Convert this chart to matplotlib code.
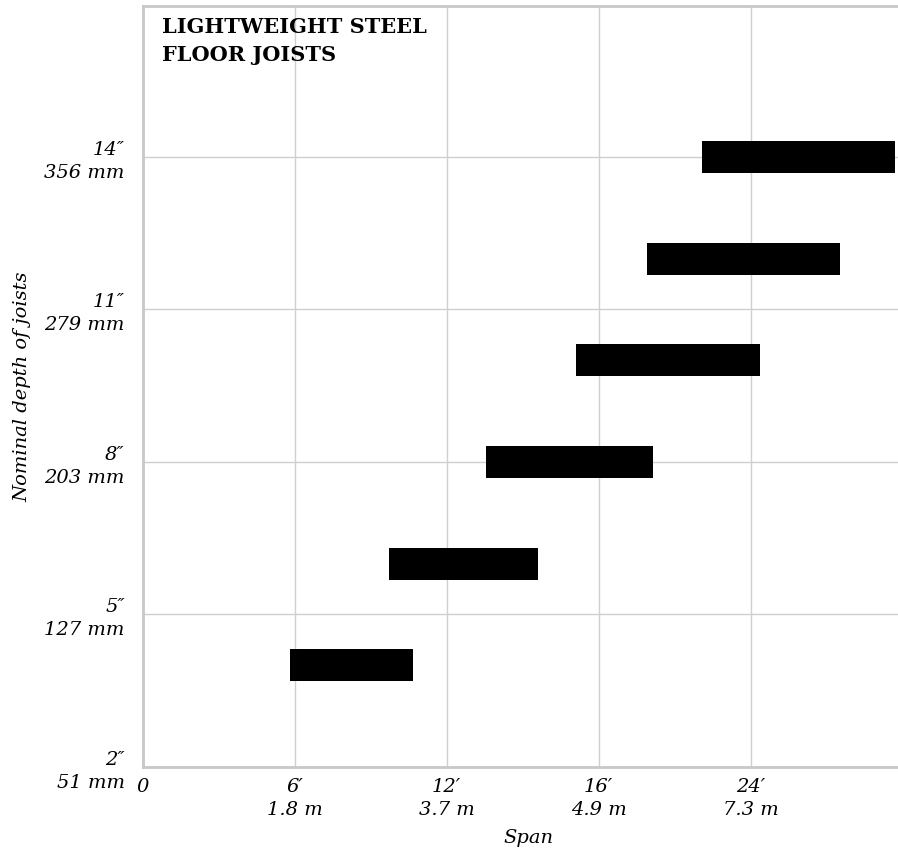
import matplotlib
matplotlib.use("Agg")
import matplotlib.pyplot as plt

# =====================================================
#   data
# =====================================================

# nominal joist depth, inches (one bar per depth)
depth_in = [4, 6, 8, 10, 12, 14]

# span ranges in span-scale units (0 = 0, 1 = 6', 2 = 12', 3 = 16', 4 = 24')
span_start = [0.97, 1.62, 2.26, 2.85, 3.32, 3.68]
span_end = [1.78, 2.60, 3.36, 4.06, 4.59, 4.95]

# axis labels
x_tick_labels = ["0", "6\u2032\n1.8 m", "12\u2032\n3.7 m", "16\u2032\n4.9 m", "24\u2032\n7.3 m"]
y_tick_depths = [2, 5, 8, 11, 14]
y_tick_mm = [51, 127, 203, 279, 356]

title = "LIGHTWEIGHT STEEL\nFLOOR JOISTS"

# =====================================================
# plotting
# =====================================================

fonts = ["DejaVu Serif", "DejaVu Sans"]
plt.rcParams["font.family"] = fonts

fig = plt.figure(figsize=(8.98, 8.56), dpi=100)
ax = fig.add_axes([0.159, 0.104, 0.841, 0.889])

grey = "#cfcfcf"

# depth -> axis position (2" at 0, 3" per step)
ypos = [(d - 2) / 3 for d in depth_in]
widths = [e - s for s, e in zip(span_start, span_end)]
ax.barh(ypos, widths, left=span_start, height=0.21, color="black", zorder=3)

ax.set_xlim(0, 4.97)
ax.set_ylim(0, 4.99)

ax.set_xticks(range(len(x_tick_labels)))
ax.set_xticklabels(x_tick_labels, fontstyle="italic", fontsize=14, linespacing=1.35)
ax.set_yticks([(d - 2) / 3 for d in y_tick_depths])
ax.set_yticklabels([f"{d}\u2033\n{m} mm" for d, m in zip(y_tick_depths, y_tick_mm)],
                   fontstyle="italic", fontsize=14, linespacing=1.35, ha="right")
ax.tick_params(length=0, pad=13, axis="y")
ax.tick_params(length=0, pad=8, axis="x")

# the zero label sits level with the first line of the others
ax.get_xticklabels()[0].set_verticalalignment("top")

ax.grid(True, color=grey, linewidth=1.0, zorder=0)

for side in ["left", "top", "bottom"]:
    ax.spines[side].set_color("#c8c8c8")
    ax.spines[side].set_linewidth(2.0)
ax.spines["right"].set_visible(False)

ax.set_xlabel("Span", fontstyle="italic", fontsize=14)
ax.xaxis.set_label_coords(0.51, -0.082)
ax.set_ylabel("Nominal depth of joists", fontstyle="italic", fontsize=14)
ax.yaxis.set_label_coords(-0.148, 0.5)

ax.text(0.025, 0.986, title, transform=ax.transAxes, ha="left", va="top",
        fontsize=15, fontweight="bold", linespacing=1.55)

fig.savefig("out.png", dpi=100)
plt.close(fig)
